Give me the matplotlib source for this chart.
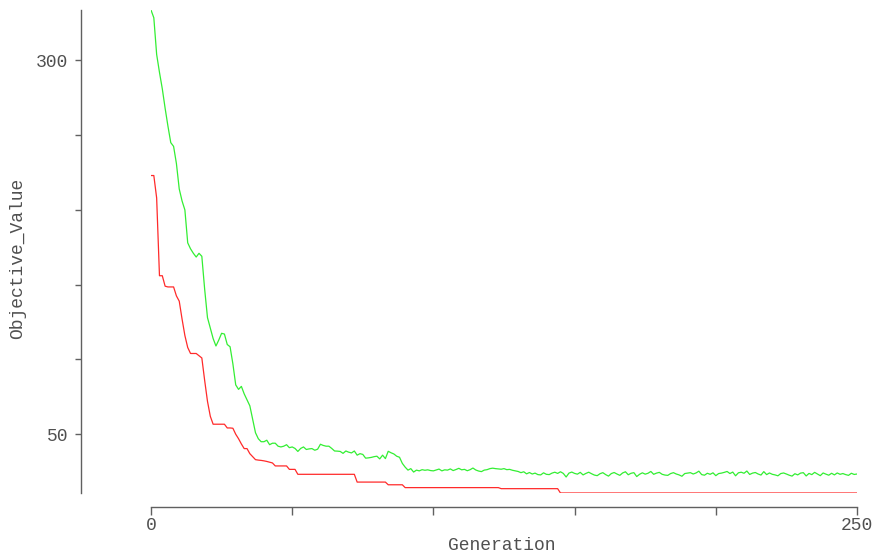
import matplotlib
matplotlib.use("Agg")
import matplotlib.pyplot as plt
import numpy as np

# generations 0..250
generations = np.arange(251)

# best objective value per generation (red)
best_value = [
    223.0, 223.0, 208.0, 156.0, 156.0, 149.0, 148.5, 148.5, 148.5, 142.5,
    139.0, 127.0, 116.0, 108.0, 104.0, 104.0, 104.0, 102.5, 101.0, 86.0,
    72.0, 62.0, 56.7, 56.7, 56.7, 56.7, 56.7, 54.2, 54.2, 54.0,
    50.0, 47.0, 43.5, 40.4, 40.4, 37.0, 35.0, 33.0, 32.7, 32.5,
    32.2, 31.8, 31.3, 30.8, 28.8, 28.8, 28.8, 28.8, 28.8, 26.5,
    26.5, 26.5, 23.2, 23.2, 23.2, 23.2, 23.2, 23.2, 23.2, 23.2,
    23.2, 23.2, 23.2, 23.2, 23.2, 23.2, 23.2, 23.2, 23.2, 23.2,
    23.2, 23.2, 23.2, 18.0, 18.0, 18.0, 18.0, 18.0, 18.0, 18.0,
    18.0, 18.0, 18.0, 18.0, 16.2, 16.2, 16.2, 16.2, 16.2, 16.2,
    14.3, 14.3, 14.3, 14.3, 14.3, 14.3, 14.3, 14.3, 14.3, 14.3,
    14.3, 14.3, 14.3, 14.3, 14.3, 14.3, 14.3, 14.3, 14.3, 14.3,
    14.3, 14.3, 14.3, 14.3, 14.3, 14.3, 14.3, 14.3, 14.3, 14.3,
    14.3, 14.3, 14.3, 14.3, 13.6, 13.6, 13.6, 13.6, 13.6, 13.6,
    13.6, 13.6, 13.6, 13.6, 13.6, 13.6, 13.6, 13.6, 13.6, 13.6,
    13.6, 13.6, 13.6, 13.6, 13.6, 10.7, 10.7, 10.7, 10.7, 10.7,
] + [10.7] * 101

# mean objective value per generation (green)
mean_value = [
    333.7, 328.5, 304.0, 292.0, 281.0, 268.0, 256.0, 245.0, 242.5, 231.0,
    214.0, 206.0, 200.0, 178.0, 174.0, 171.0, 168.5, 171.0, 169.0, 147.0,
    128.0, 121.0, 114.0, 109.0, 113.0, 117.5, 117.0, 110.0, 108.5, 97.0,
    83.0, 80.0, 82.0, 77.0, 73.0, 69.0, 60.0, 51.0, 47.0, 45.0,
    45.0, 46.0, 43.0, 44.0, 44.0, 42.0, 41.5, 42.0, 43.0, 41.0,
    41.5, 40.5, 38.5, 40.5, 41.5, 39.8, 40.2, 40.4, 39.3, 40.0,
    43.3, 42.5, 42.0, 42.0, 40.5, 38.8, 38.7, 38.5, 37.2, 38.8,
    38.0, 37.5, 38.8, 36.0, 37.0, 36.5, 34.0, 34.2, 34.5, 35.0,
    35.3, 33.5, 36.0, 33.7, 38.6, 37.6, 36.8, 35.3, 34.6, 30.5,
    28.0, 26.0, 27.0, 24.7, 26.0, 25.5, 26.3, 25.9, 26.2, 25.7,
    25.5, 26.1, 26.7, 25.5, 26.2, 26.0, 26.8, 25.7, 26.4, 27.2,
    26.2, 26.5, 25.6, 26.3, 27.4, 26.1, 25.4, 25.0, 26.0, 26.3,
    27.0, 27.3, 27.0, 26.8, 26.6, 27.0, 26.3, 26.5, 25.9, 25.5,
    25.1, 24.3, 24.9, 23.5, 24.4, 23.4, 24.0, 23.0, 22.8, 24.2,
    23.2, 23.0, 24.0, 24.6, 23.8, 24.9, 23.8, 21.4, 24.0, 24.7,
    23.8, 23.3, 24.5, 22.8, 23.8, 24.6, 23.6, 22.7, 22.3, 23.6,
    24.3, 23.0, 22.0, 23.7, 24.4, 23.4, 22.5, 24.1, 24.9, 22.9,
    23.9, 24.3, 21.7, 23.2, 24.2, 23.3, 23.9, 25.1, 23.2, 24.0,
    24.5, 23.2, 22.7, 22.5, 23.7, 24.3, 23.4, 22.8, 21.9, 23.7,
    24.0, 24.3, 23.4, 24.1, 25.3, 23.0, 22.6, 23.9, 23.2, 24.2,
    22.3, 23.7, 24.0, 24.5, 25.1, 23.7, 24.7, 22.2, 24.2, 24.6,
    23.9, 25.4, 23.1, 24.0, 24.4, 23.4, 22.7, 25.0, 23.0, 24.1,
    23.2, 22.8, 22.2, 23.7, 24.1, 23.4, 22.6, 22.0, 23.6, 22.8,
    24.0, 24.3, 22.1, 23.8, 23.0, 24.5, 23.4, 22.3, 24.1, 23.3,
    22.6, 23.9, 22.8, 24.1, 23.2, 23.7, 23.0, 22.5, 23.9, 23.1,
    23.4,
]

y_ticks = [50, 100, 150, 200, 250, 300]
y_tick_labels = ["50", "", "", "", "", "300"]
x_ticks = [0, 50, 100, 150, 200, 250]
x_tick_labels = ["0", "", "", "", "", "250"]

W, H = 873, 554
fig = plt.figure(figsize=(W / 100, H / 100), dpi=100)
ax = fig.add_axes([151 / W, (H - 493) / H, 706 / W, 483 / H])

ax.plot(generations, mean_value, color="#33ee33", linewidth=0.9)
ax.plot(generations, best_value, color="#ff2a2a", linewidth=0.9)

ax.set_xlim(0, 250)
ax.set_ylim(min(best_value), max(mean_value))

axis_color = "#606060"
for side in ["top", "right"]:
    ax.spines[side].set_visible(False)
ax.spines["left"].set_position(("axes", -70 / 706))
ax.spines["bottom"].set_position(("axes", -14 / 483))
ax.spines["bottom"].set_bounds(0, 250)
for side in ["left", "bottom"]:
    ax.spines[side].set_color(axis_color)
    ax.spines[side].set_linewidth(1.0)

font = {"family": "Liberation Mono", "size": 13, "color": "#505050"}

ax.set_yticks(y_ticks)
ax.set_yticklabels(y_tick_labels, fontdict=font)
ax.set_xticks(x_ticks)
ax.set_xticklabels(x_tick_labels, fontdict=font)
ax.tick_params(axis="y", direction="out", length=4, width=1, color=axis_color, pad=5)
ax.tick_params(axis="x", direction="out", length=6, width=1, color=axis_color, pad=1)

ax.set_xlabel("Generation", fontdict=font)
ax.xaxis.set_label_coords((502 - 151) / 706, (493 - 545) / 483)
ax.xaxis.label.set_va("center")
ax.set_ylabel("Objective_Value", fontdict=font)
ax.yaxis.set_label_coords((18 - 151) / 706, (493 - 258) / 483)
ax.yaxis.label.set_va("center")

fig.savefig("out.png", dpi=100)
